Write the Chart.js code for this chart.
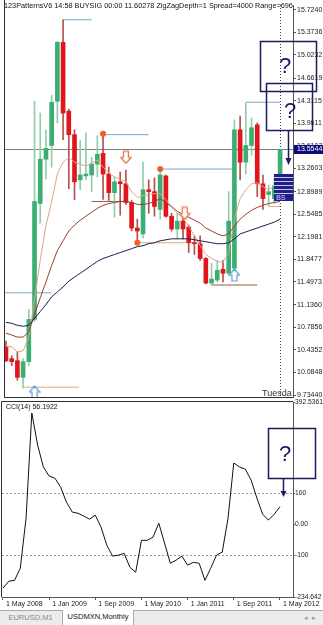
<!DOCTYPE html>
<html>
<head>
<meta charset="utf-8">
<script src="https://cdn.jsdelivr.net/npm/chart.js@4.4.0/dist/chart.umd.min.js"></script>
<style>
  html, body { margin: 0; padding: 0; background: #fff; width: 323px; height: 625px; overflow: hidden; }
  body { position: relative; font-family: 'Liberation Sans', Arial, sans-serif; }
  canvas { position: absolute; left: 0; }
  #main { top: 0; }
  #cci { top: 396px; }
  .txt { position: absolute; white-space: nowrap; color: #111; font-size: 7px; line-height: 8px; }
  #head { left: 4px; top: 2px; width: 289px; overflow: hidden; font-size: 7.3px; }
  #cciName { left: 6px; top: 403px; }
  #day { left: 262px; top: 388px; width: 30px; overflow: hidden; font-size: 9px; line-height: 10px; color: #333; }
  #tabs { position: absolute; left: 0; top: 610px; width: 323px; height: 15px; background: #ececec; border-top: 1px solid #a9a9a9; box-sizing: border-box; font-size: 7.5px; }
  #tabs div { position: absolute; top: 0; height: 14px; line-height: 13px; text-align: center; }
  #tab1 { left: 0; width: 61px; color: #8a8a8a; }
  #tab2 { left: 62px; width: 72px; background: #fff; color: #111; border-left: 1px solid #a9a9a9; border-right: 1px solid #a9a9a9; box-sizing: border-box; top: -1px !important; height: 15px !important; }
  #nav { left: 300px; width: 20px; color: #999; font-size: 7px; }
  #bs { position: absolute; left: 274px; top: 174px; width: 19px; height: 27px; background: #1f1f88; overflow: hidden; }
  #bs span { display: block; height: 3px; border-bottom: 1px solid #c8c8ee; }
  #bs b { position: absolute; left: 2px; bottom: 0; font-size: 7px; line-height: 7px; color: #d0d0ff; font-weight: normal; }
</style>
</head>
<body>
<canvas id="main" width="323" height="402"></canvas>
<canvas id="cci" width="323" height="215"></canvas>
<div class="txt" id="head">123PatternsV6 14:58 BUYSIG 00:00 11.60278 ZigZagDepth=1 Spread=4000 Range=69600</div>
<div class="txt" id="cciName">CCI(14) 56.1922</div>
<div class="txt" id="day">Tuesday</div>
<div id="bs"><span></span><span></span><span></span><span></span><span></span><b>BS</b></div>
<svg width="323" height="625" style="position:absolute;left:0;top:0" font-family="Liberation Sans, Arial, sans-serif">
  <g fill="none" stroke="#1b1b5e" stroke-width="1.5">
    <rect x="260.5" y="41.5" width="56" height="50"/>
    <rect x="266.5" y="83.5" width="46" height="47"/>
    <rect x="268.5" y="428.5" width="47" height="50"/>
    <line x1="288.5" y1="131" x2="288.5" y2="160"/>
    <line x1="283.5" y1="479" x2="283.5" y2="492"/>
  </g>
  <g fill="#1b1b5e">
    <path d="M285.5,158 L288.5,165 L291.5,158 Z"/>
    <path d="M280.5,491 L283.5,497 L286.5,491 Z"/>
    <text x="285" y="73" font-size="22" text-anchor="middle">?</text>
    <text x="290" y="118" font-size="22" text-anchor="middle">?</text>
    <text x="285" y="461" font-size="22" text-anchor="middle">?</text>
  </g>
</svg>
<div id="tabs"><div id="tab1">EURUSD,M1</div><div id="tab2">USDMXN,Monthly</div><div id="nav">&#9666;&nbsp;&nbsp;&#9656;</div></div>
<script>
'use strict';

// USDMXN monthly, May 2008 .. May 2012 (one entry per bar)
const opens  = [10.483, 10.300, 10.269, 10.010, 10.254, 10.911, 12.714, 13.402, 13.616, 14.303,
                15.220, 14.150, 13.784, 13.081, 13.142, 13.157, 13.325, 13.493, 13.172, 12.882,
                13.050, 13.020, 12.729, 12.332, 12.240, 12.928, 12.897, 12.622, 13.142, 12.515,
                12.317, 12.439, 12.347, 12.103, 12.088, 11.858, 11.476, 11.522, 11.690, 11.629,
                11.706, 13.860, 13.356, 13.616, 13.936, 13.020, 12.852, 12.790, 12.790];
const highs  = [10.575, 10.346, 10.407, 10.300, 11.064, 14.303, 14.120, 13.860, 14.395, 15.235,
                15.571, 14.181, 13.860, 13.692, 13.814, 13.432, 13.768, 13.799, 13.279, 13.127,
                13.203, 13.234, 12.760, 12.470, 13.356, 13.081, 13.111, 13.249, 13.157, 12.561,
                12.561, 12.485, 12.378, 12.210, 12.210, 11.874, 11.782, 11.828, 11.828, 12.898,
                14.013, 14.074, 14.273, 14.043, 13.967, 13.157, 13.004, 13.127, 13.5544];
const lows   = [10.254, 10.193, 9.964, 9.842, 10.193, 10.881, 12.408, 13.096, 13.279, 13.967,
                13.707, 12.943, 12.775, 12.928, 13.081, 12.897, 13.127, 12.775, 12.760, 12.500,
                12.531, 12.699, 12.286, 12.103, 12.179, 12.561, 12.515, 12.470, 12.500, 12.286,
                12.164, 12.164, 11.950, 11.920, 11.828, 11.461, 11.446, 11.492, 11.492, 11.599,
                11.675, 13.081, 13.172, 13.463, 12.821, 12.622, 12.668, 12.714, 12.775];
const closes = [10.269, 10.254, 10.010, 10.254, 10.911, 12.745, 13.402, 13.570, 14.288, 15.220,
                14.120, 13.784, 13.050, 13.157, 13.172, 13.325, 13.478, 13.172, 12.882, 13.050,
                13.020, 12.729, 12.332, 12.286, 12.928, 12.897, 12.668, 13.157, 12.515, 12.317,
                12.439, 12.317, 12.103, 12.088, 11.858, 11.476, 11.538, 11.675, 11.629, 12.439,
                13.860, 13.356, 13.616, 13.891, 13.020, 12.790, 12.897, 12.989, 13.5544];

const maFast = [10.499, 10.483, 10.407, 10.422, 10.636, 11.217, 11.828, 12.363, 12.745, 13.172,
                13.356, 13.432, 13.356, 13.325, 13.295, 13.341, 13.386, 13.279, 13.188, 13.127,
                13.096, 13.050, 12.897, 12.806, 12.836, 12.852, 12.867, 12.867, 12.775, 12.653,
                12.561, 12.485, 12.363, 12.210, 12.057, 11.920, 11.858, 11.813, 11.797, 11.950,
                12.470, 12.790, 12.928, 13.020, 13.035, 12.974, 12.928, 12.989, 13.081];
const maMid  = [10.697, 10.667, 10.636, 10.636, 10.713, 10.988, 11.247, 11.492, 11.751, 11.981,
                12.133, 12.286, 12.378, 12.454, 12.515, 12.577, 12.638, 12.683, 12.714, 12.729,
                12.745, 12.745, 12.729, 12.699, 12.699, 12.714, 12.745, 12.790, 12.729, 12.668,
                12.592, 12.546, 12.500, 12.454, 12.408, 12.332, 12.286, 12.240, 12.210, 12.240,
                12.363, 12.470, 12.546, 12.607, 12.653, 12.683, 12.714, 12.729, 12.745];
const maSlow = [10.865, 10.850, 10.819, 10.804, 10.819, 10.926, 11.033, 11.140, 11.263, 11.339,
                11.415, 11.507, 11.568, 11.629, 11.690, 11.751, 11.813, 11.858, 11.889, 11.920,
                11.950, 11.981, 12.011, 12.042, 12.057, 12.088, 12.103, 12.133, 12.149, 12.164,
                12.164, 12.164, 12.164, 12.149, 12.133, 12.118, 12.103, 12.088, 12.088, 12.103,
                12.164, 12.240, 12.271, 12.302, 12.332, 12.363, 12.393, 12.424, 12.470];

const cciValues = [-206, -184, -181, -142, 19, 358, 255, 184, 155, 148,
                   119, 71, 39, 35, 26, 16, 29, -10, -68, -103,
                   -100, -94, -139, -155, -52, -52, -42, 3, -61, -126,
                   -116, -103, -132, -123, -126, -181, -142, -100, -90, 19,
                   197, 184, 177, 142, 84, 32, 13, 32, 56.1922];

// pattern levels: [from bar, to bar, price]
const resistFrom  = [10, -0.2, 17, 27, 42];
const resistTo    = [15, 8, 25, 40, 48];
const resistPrice = [15.571, 11.324, 13.784, 13.249, 14.288];
const supportFrom  = [3, 15, 23, 36, 46];
const supportTo    = [12.8, 21.1, 33.7, 44, 48];
const supportPrice = [9.857, 12.745, 12.103, 11.446, 12.668];

const zigzagBar   = [17, 23, 27];
const zigzagPrice = [13.799, 12.103, 13.249];
const sellBar   = [21, 31.3];
const sellPrice = [13.43, 12.56];
const buyBar    = [5, 40];
const buyPrice  = [9.78, 11.60];

const priceTicks = ['15.7240', '15.3736', '15.0232', '14.6619', '14.3115', '13.9611', '13.6107', '13.2603', '12.8989',
                    '12.5485', '12.1981', '11.8477', '11.4973', '11.1360', '10.7856', '10.4352', '10.0848', '9.73440'];
const cciTicks = ['392.5361', '100', '0.00', '-100', '-234.642'];
const dateTicks = ['1 May 2008', '1 Jan 2009', '1 Sep 2009', '1 May 2010', '1 Jan 2011', '1 Sep 2011', '1 May 2012'];
const cciLevels = [100, -100];

const font7 = { family: 'Liberation Sans', size: 7 };
const bars = closes.map((c, i) => i);
const isUp = closes.map((c, i) => c >= opens[i]);
const xs = { type: 'linear', min: -0.17, max: 50.26, offset: false };

function arrowIcon(up, color) {
   var c = document.createElement('canvas');
   c.width = 12; c.height = 14;
   var g = c.getContext('2d');
   var pts = [[3.5, 1], [8.5, 1], [8.5, 7], [11.3, 7], [6, 13], [0.7, 7], [3.5, 7]];
   g.beginPath();
   pts.forEach(function (p, k) {
      var y = up ? 14 - p[1] : p[1];
      if (k) g.lineTo(p[0], y); else g.moveTo(p[0], y);
   });
   g.closePath();
   g.fillStyle = '#fff'; g.fill();
   g.strokeStyle = color; g.lineWidth = 1.2; g.stroke();
   return c;
}

function flatScale(s) {
   s.paddingTop = 0; s.paddingBottom = 0; s.paddingLeft = 0; s.paddingRight = 0;
}

function segment(from, to, price, color) {
   return {
      type: 'line', data: [{ x: from, y: price }, { x: to, y: price }],
      borderColor: color, borderWidth: 1, pointRadius: 0, order: 6
   };
}

const mainExtras = {
   id: 'mainExtras',
   beforeDatasetsDraw(chart) {
      const { ctx, chartArea: a, scales: { x, y } } = chart;
      const py = Math.round(y.getPixelForValue(closes[closes.length - 1])) + 0.5;
      const px = Math.round(x.getPixelForValue(closes.length - 1)) + 0.5;
      ctx.save();
      ctx.strokeStyle = '#808080';
      ctx.beginPath(); ctx.moveTo(a.left, py); ctx.lineTo(a.right, py); ctx.stroke();
      ctx.setLineDash([1, 2]);
      ctx.strokeStyle = '#444';
      ctx.beginPath(); ctx.moveTo(px, a.top); ctx.lineTo(px, a.bottom); ctx.stroke();
      ctx.restore();
   },
   afterDraw(chart) {
      const { ctx, chartArea: a, scales: { y } } = chart;
      const last = closes[closes.length - 1];
      const py = Math.round(y.getPixelForValue(last));
      ctx.save();
      ctx.strokeStyle = '#303030';
      ctx.beginPath(); ctx.moveTo(a.left - 0.5, 0); ctx.lineTo(a.left - 0.5, a.bottom + 0.5); ctx.lineTo(a.right, a.bottom + 0.5); ctx.stroke();
      ctx.fillStyle = '#0c0c78';
      ctx.fillRect(a.right + 1, py - 4, 29, 9);
      ctx.fillStyle = '#fff';
      ctx.font = '7px Liberation Sans';
      ctx.textBaseline = 'middle';
      ctx.fillText(last.toFixed(4), a.right + 4, py + 0.5);
      ctx.restore();
   }
};

const cciExtras = {
   id: 'cciExtras',
   beforeDatasetsDraw(chart) {
      const { ctx, chartArea: a, scales: { y } } = chart;
      ctx.save();
      ctx.strokeStyle = '#9a9a9a';
      ctx.setLineDash([2, 2]);
      cciLevels.forEach(function (lv) {
         const py = Math.round(y.getPixelForValue(lv)) + 0.5;
         ctx.beginPath(); ctx.moveTo(a.left, py); ctx.lineTo(a.right, py); ctx.stroke();
      });
      ctx.restore();
   },
   afterDraw(chart) {
      const { ctx, chartArea: a } = chart;
      ctx.save();
      ctx.strokeStyle = '#303030';
      ctx.beginPath(); ctx.moveTo(a.left - 0.5, a.bottom); ctx.lineTo(a.left - 0.5, 5.5); ctx.lineTo(a.right, 5.5); ctx.stroke();
      ctx.restore();
   }
};

new Chart(document.getElementById('main'), {
   type: 'bar',
   data: {
      datasets: [
         ...resistPrice.map((p, k) => segment(resistFrom[k], resistTo[k], p, '#79a6c6')),
         ...supportPrice.map((p, k) => segment(supportFrom[k], supportTo[k], p, k % 2 ? '#9c5a3c' : '#dba987')),
         {
            type: 'bar', data: bars.map(i => ({ x: i, y: [lows[i], highs[i]] })),
            backgroundColor: isUp.map(u => u ? '#92cdab' : '#b5504a'),
            barThickness: 1, grouped: false, borderWidth: 0, order: 5
         },
         {
            type: 'bar', data: bars.map(i => ({ x: i, y: [opens[i], closes[i]] })),
            backgroundColor: isUp.map(u => u ? '#3dae73' : '#e2141c'),
            barThickness: 4, minBarLength: 1, grouped: false, borderWidth: 0, order: 4
         },
         { type: 'line', data: bars.map(i => ({ x: i, y: maSlow[i] })), borderColor: '#1d1d4d', borderWidth: 1, pointRadius: 0, order: 3 },
         { type: 'line', data: bars.map(i => ({ x: i, y: maMid[i] })), borderColor: '#9b3d2c', borderWidth: 1, pointRadius: 0, order: 3 },
         { type: 'line', data: bars.map(i => ({ x: i, y: maFast[i] })), borderColor: '#e2a582', borderWidth: 1, pointRadius: 0, order: 3 },
         {
            type: 'scatter', data: zigzagBar.map((b, k) => ({ x: b, y: zigzagPrice[k] })),
            pointStyle: 'circle', pointRadius: 3, backgroundColor: '#f0601e', borderWidth: 0, order: 1
         },
         {
            type: 'scatter', data: sellBar.map((b, k) => ({ x: b, y: sellPrice[k] })),
            pointStyle: arrowIcon(false, '#e0703c'), order: 1
         },
         {
            type: 'scatter', data: buyBar.map((b, k) => ({ x: b, y: buyPrice[k] })),
            pointStyle: arrowIcon(true, '#5b9bd5'), order: 1
         }
      ]
   },
   options: {
      responsive: false,
      animation: false,
      layout: { padding: { left: 2, right: 0, top: 0, bottom: 3 } },
      plugins: { legend: { display: false }, tooltip: { enabled: false } },
      scales: {
         x: Object.assign({ display: false }, xs),
         y: {
            position: 'right', min: 9.704, max: 15.8004,
            afterFit(s) { s.width = 30; flatScale(s); },
            afterBuildTicks(s) { s.ticks = priceTicks.map(t => ({ value: parseFloat(t) })); },
            ticks: { callback: (v, i) => priceTicks[i], font: font7, color: '#1a1a1a', padding: 1, autoSkip: false },
            grid: { drawOnChartArea: false, tickLength: 3, color: '#555' },
            border: { color: '#555' }
         }
      }
   },
   plugins: [mainExtras]
});

new Chart(document.getElementById('cci'), {
   type: 'line',
   data: {
      datasets: [{
         data: bars.map(i => ({ x: i, y: cciValues[i] })),
         borderColor: '#111', borderWidth: 1, pointRadius: 0, tension: 0
      }]
   },
   options: {
      responsive: false,
      animation: false,
      layout: { padding: { left: 2, right: 0, top: 6.3, bottom: 0 } },
      plugins: { legend: { display: false }, tooltip: { enabled: false } },
      scales: {
         x: Object.assign({
            afterFit(s) { s.height = 14; flatScale(s); },
            afterBuildTicks(s) { s.ticks = dateTicks.map((t, k) => ({ value: k * 8 })); },
            ticks: { callback: (v, i) => dateTicks[i], font: font7, color: '#1a1a1a', padding: 0, align: 'start', labelOffset: 3, autoSkip: false, maxRotation: 0 },
            grid: { drawOnChartArea: false, tickLength: 3, color: '#555' },
            border: { color: '#555' }
         }, xs),
         y: {
            position: 'right', min: -234.642, max: 392.5361,
            afterFit(s) { s.width = 30; flatScale(s); },
            afterBuildTicks(s) { s.ticks = cciTicks.map(t => ({ value: parseFloat(t) })); },
            ticks: { callback: (v, i) => cciTicks[i], font: { family: 'Liberation Sans', size: 6.7 }, color: '#1a1a1a', padding: 0, autoSkip: false },
            grid: { drawOnChartArea: false, tickLength: 2, color: '#555' },
            border: { color: '#555' }
         }
      }
   },
   plugins: [cciExtras]
});
</script>
</body>
</html>
